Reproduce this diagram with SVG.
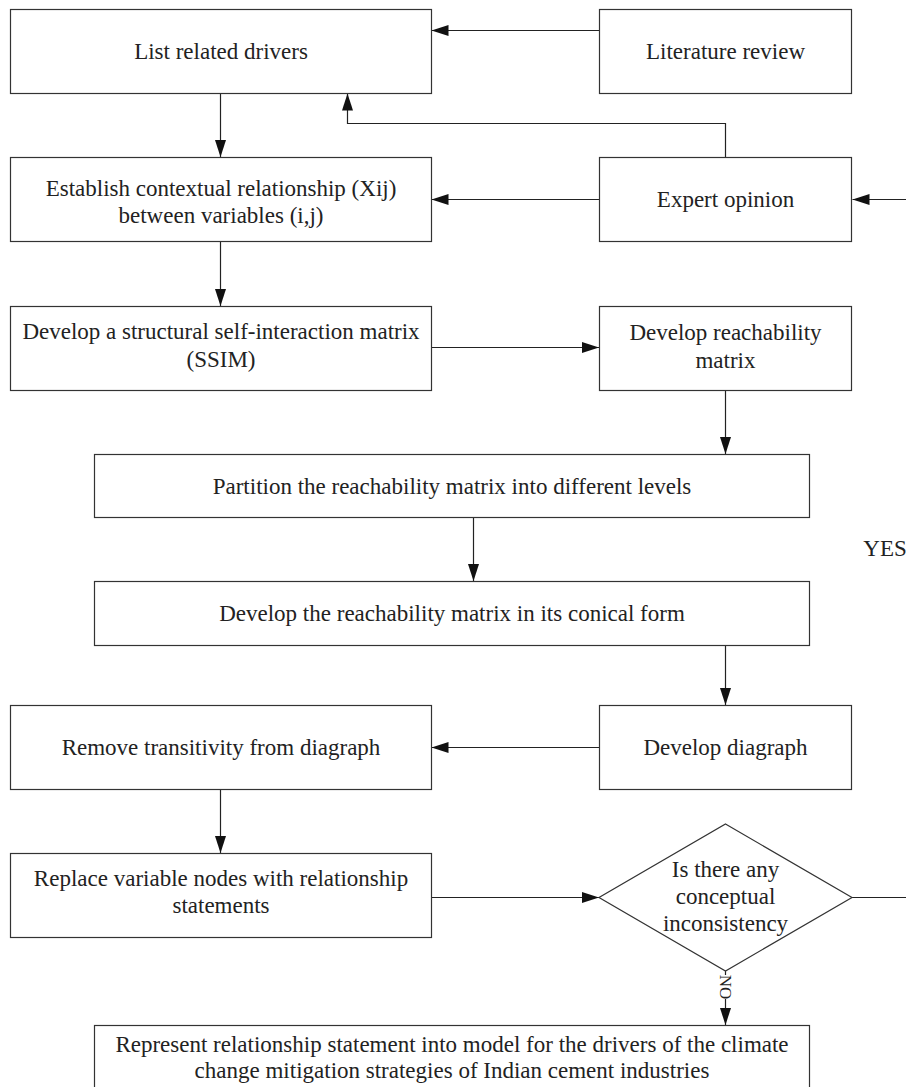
<svg xmlns="http://www.w3.org/2000/svg" width="906" height="1087" viewBox="0 0 906 1087">
<style>
.box{fill:#ffffff;stroke:#333;stroke-width:1.2}
.t{font-family:"Liberation Serif","Times New Roman",serif;font-size:23px;fill:#222;text-anchor:middle}
.c{fill:none;stroke:#222;stroke-width:1.2}
</style>
<defs>
<marker id="ah" markerUnits="userSpaceOnUse" markerWidth="18" markerHeight="12" refX="17" refY="5.5" orient="auto">
<path d="M0,0 L17,5.5 L0,11 z" fill="#111"/>
</marker>
</defs>
<rect width="906" height="1087" fill="#ffffff"/>

<g id="connectors">
<line class="c" x1="599" y1="30.5" x2="431.5" y2="30.5" marker-end="url(#ah)"/>
<polyline class="c" points="725.5,157 725.5,123.5 347.5,123.5 347.5,93.5" marker-end="url(#ah)"/>
<line class="c" x1="220.5" y1="93" x2="220.5" y2="157" marker-end="url(#ah)"/>
<line class="c" x1="599" y1="199.5" x2="431.5" y2="199.5" marker-end="url(#ah)"/>
<line class="c" x1="906" y1="199.5" x2="852.5" y2="199.5" marker-end="url(#ah)"/>
<line class="c" x1="220.5" y1="241" x2="220.5" y2="306" marker-end="url(#ah)"/>
<line class="c" x1="431" y1="347.5" x2="599" y2="347.5" marker-end="url(#ah)"/>
<line class="c" x1="725.5" y1="390" x2="725.5" y2="454" marker-end="url(#ah)"/>
<line class="c" x1="473.5" y1="517" x2="473.5" y2="581" marker-end="url(#ah)"/>
<line class="c" x1="725.5" y1="645" x2="725.5" y2="705" marker-end="url(#ah)"/>
<line class="c" x1="599" y1="747.5" x2="431.5" y2="747.5" marker-end="url(#ah)"/>
<line class="c" x1="220.5" y1="789" x2="220.5" y2="853" marker-end="url(#ah)"/>
<line class="c" x1="431" y1="897.5" x2="599" y2="897.5" marker-end="url(#ah)"/>
<line class="c" x1="852" y1="897.5" x2="906" y2="897.5"/>
<line class="c" x1="725.5" y1="970" x2="725.5" y2="1025" marker-end="url(#ah)"/>
<rect x="718" y="975" width="15" height="24" fill="#ffffff"/>
<text class="t" font-size="17" style="font-size:17px" transform="translate(725.5,987) rotate(90)" dy="6">NO</text>
<text class="t" x="885" y="556">YES</text>
</g>

<g id="n-list">
<rect class="box" x="10.5" y="9.5" width="421" height="84"/>
<text class="t" x="221" y="59">List related drivers</text>
</g>
<g id="n-literature">
<rect class="box" x="599.5" y="9.5" width="252" height="84"/>
<text class="t" x="725.5" y="59">Literature review</text>
</g>
<g id="n-establish">
<rect class="box" x="10.5" y="157.5" width="421" height="84"/>
<text class="t" x="221" y="196">Establish contextual relationship (Xij)</text>
<text class="t" x="221" y="223">between variables (i,j)</text>
</g>
<g id="n-expert">
<rect class="box" x="599.5" y="157.5" width="252" height="84"/>
<text class="t" x="725.5" y="207">Expert opinion</text>
</g>
<g id="n-ssim">
<rect class="box" x="10.5" y="306.5" width="421" height="84"/>
<text class="t" x="221" y="339">Develop a structural self-interaction matrix</text>
<text class="t" x="221" y="367">(SSIM)</text>
</g>
<g id="n-reach">
<rect class="box" x="599.5" y="306.5" width="252" height="84"/>
<text class="t" x="725.5" y="340">Develop reachability</text>
<text class="t" x="725.5" y="368">matrix</text>
</g>
<g id="n-partition">
<rect class="box" x="94.5" y="454.5" width="715" height="63"/>
<text class="t" x="452" y="494">Partition the reachability matrix into different levels</text>
</g>
<g id="n-conical">
<rect class="box" x="94.5" y="581.5" width="715" height="64"/>
<text class="t" x="452" y="621">Develop the reachability matrix in its conical form</text>
</g>
<g id="n-diagraph">
<rect class="box" x="599.5" y="705.5" width="252" height="84"/>
<text class="t" x="725.5" y="755">Develop diagraph</text>
</g>
<g id="n-remove">
<rect class="box" x="10.5" y="705.5" width="421" height="84"/>
<text class="t" x="221" y="755">Remove transitivity from diagraph</text>
</g>
<g id="n-replace">
<rect class="box" x="10.5" y="853.5" width="421" height="84"/>
<text class="t" x="221" y="886">Replace variable nodes with relationship</text>
<text class="t" x="221" y="913">statements</text>
</g>
<g id="n-decision">
<polygon class="box" points="725.5,824 852,897.5 725.5,971 599,897.5"/>
<text class="t" x="725.5" y="877">Is there any</text>
<text class="t" x="725.5" y="904">conceptual</text>
<text class="t" x="725.5" y="931">inconsistency</text>
</g>
<g id="n-represent">
<rect class="box" x="94.5" y="1025.5" width="715" height="70"/>
<text class="t" x="452" y="1052">Represent relationship statement into model for the drivers of the climate</text>
<text class="t" x="452" y="1078">change mitigation strategies of Indian cement industries</text>
</g>
</svg>
